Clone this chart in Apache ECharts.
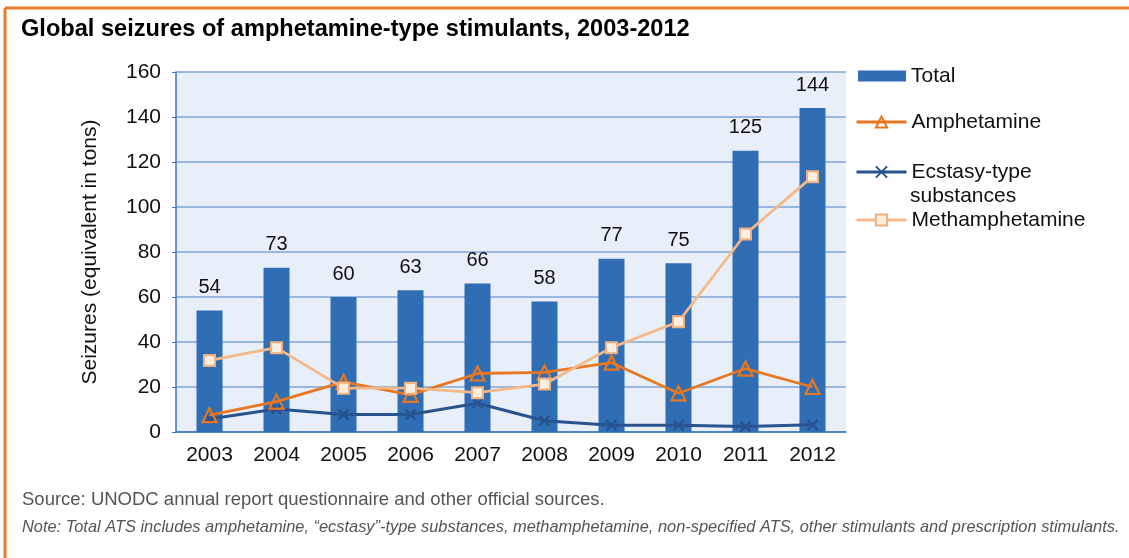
<!DOCTYPE html>
<html>
<head>
<meta charset="utf-8">
<script src="https://cdn.jsdelivr.net/npm/echarts@6/dist/echarts.min.js"></script>
<style>
html,body{margin:0;padding:0;background:#fff;}
#chart{width:1129px;height:558px;}
</style>
</head>
<body>
<div id="chart"></div>
<script>
const years = ['2003','2004','2005','2006','2007','2008','2009','2010','2011','2012'];
const total = [54, 73, 60, 63, 66, 58, 77, 75, 125, 144];
const amphetamine = [7.5, 13.5, 22.3, 16.5, 26, 26.5, 30.8, 17.2, 28.2, 20];
const ecstasy = [5.8, 10.2, 7.8, 7.8, 12.8, 5, 3, 3, 2.4, 3.2];
const methamphetamine = [31.8, 37.5, 19.5, 19.5, 17.5, 21.3, 37.5, 49, 88, 113.5];
const yTicks = [0, 160, 20];

const FONT = '"Liberation Sans", Arial, Helvetica, sans-serif';
const chart = echarts.init(document.getElementById('chart'), null, {renderer: 'canvas'});
const legendText = {fontFamily: FONT, fontSize: 21, color: '#111', lineHeight: 24};

const option = {
  backgroundColor: '#ffffff',
  animation: false,
  textStyle: {fontFamily: FONT},
  title: {
    text: 'Global seizures of amphetamine-type stimulants, 2003-2012',
    left: 21, top: 17, padding: 0,
    textStyle: {fontFamily: FONT, fontSize: 23.6, fontWeight: 'bold', color: '#000'}
  },
  grid: {
    left: 176, right: 283, top: 72, bottom: 126,
    show: true, backgroundColor: '#e8eff8', borderWidth: 0
  },
  legend: [
    {data: [{name: 'Total', icon: 'rect'}], left: 858, top: 64, padding: 0, orient: 'vertical',
     itemWidth: 48, itemHeight: 11, textStyle: legendText},
    {data: ['Amphetamine'], left: 855, top: 110, padding: 0, orient: 'vertical',
     itemWidth: 50, itemHeight: 14, textStyle: legendText, lineStyle: {width: 3}},
    {data: ['Ecstasy-type substances'], left: 855, top: 160, padding: 0, orient: 'vertical',
     itemWidth: 50, itemHeight: 14, formatter: function(){ return 'Ecstasy-type'; },
     textStyle: legendText, lineStyle: {width: 3}},
    {data: ['Methamphetamine'], left: 855, top: 208, padding: 0, orient: 'vertical',
     itemWidth: 50, itemHeight: 14, textStyle: legendText, lineStyle: {width: 3}}
  ],
  xAxis: {
    type: 'category', data: years,
    axisLine: {show: true, lineStyle: {color: '#3b74bd', width: 1.5}},
    axisTick: {show: false},
    axisLabel: {fontFamily: FONT, fontSize: 21, color: '#111', margin: 13}
  },
  yAxis: {
    type: 'value', min: yTicks[0], max: yTicks[1], interval: yTicks[2],
    name: 'Seizures (equivalent in tons)', nameLocation: 'middle', nameRotate: 90, nameGap: 75,
    nameTextStyle: {fontFamily: FONT, fontSize: 21, color: '#111'},
    axisLine: {show: true, lineStyle: {color: '#3b74bd', width: 1.5}},
    axisTick: {show: true, length: 4, lineStyle: {color: '#3b74bd'}},
    axisLabel: {fontFamily: FONT, fontSize: 21, color: '#111', margin: 15},
    splitLine: {show: true, lineStyle: {color: '#7fa6da', width: 1.5}}
  },
  series: [
    {
      name: 'Total', type: 'bar', data: total, barWidth: 26,
      itemStyle: {color: '#2f6db5'},
      label: {show: true, position: 'top', distance: 13, fontFamily: FONT, fontSize: 20, color: '#111'},
      z: 2
    },
    {
      name: 'Amphetamine', type: 'line', data: amphetamine,
      symbol: 'triangle', symbolSize: 14,
      lineStyle: {color: '#e87722', width: 2.8},
      itemStyle: {color: 'rgba(0,0,0,0)', borderColor: '#e87722', borderWidth: 2.2},
      z: 4
    },
    {
      name: 'Ecstasy-type substances', type: 'line', data: ecstasy,
      symbol: 'path://M0,0L10,10M10,0L0,10', symbolSize: 10,
      lineStyle: {color: '#28538f', width: 3},
      itemStyle: {color: '#28538f', borderColor: '#28538f', borderWidth: 2.4},
      z: 3
    },
    {
      name: 'Methamphetamine', type: 'line', data: methamphetamine,
      symbol: 'rect', symbolSize: 11,
      lineStyle: {color: '#f5b888', width: 2.8},
      itemStyle: {color: '#fdeee0', borderColor: '#f2b07e', borderWidth: 2},
      z: 5
    }
  ],
  graphic: [
    {type: 'line', shape: {x1: 5, y1: 8, x2: 1129, y2: 8}, style: {stroke: '#e97c2a', lineWidth: 3}},
    {type: 'line', shape: {x1: 5, y1: 8, x2: 5, y2: 558}, style: {stroke: '#e97c2a', lineWidth: 3}},
    {type: 'text', left: 910, top: 186, style: {text: 'substances', font: '21px ' + FONT, fill: '#111'}},
    {type: 'text', left: 22, top: 490, style: {text: 'Source: UNODC annual report questionnaire and other official sources.', font: '18.5px ' + FONT, fill: '#555'}},
    {type: 'text', left: 22, top: 519, style: {text: 'Note: Total ATS includes amphetamine, \u201cecstasy\u201d-type substances, methamphetamine, non-specified ATS, other stimulants and prescription stimulants.', font: 'italic 16.4px ' + FONT, fill: '#555'}}
  ]
};
chart.setOption(option);
</script>
</body>
</html>
